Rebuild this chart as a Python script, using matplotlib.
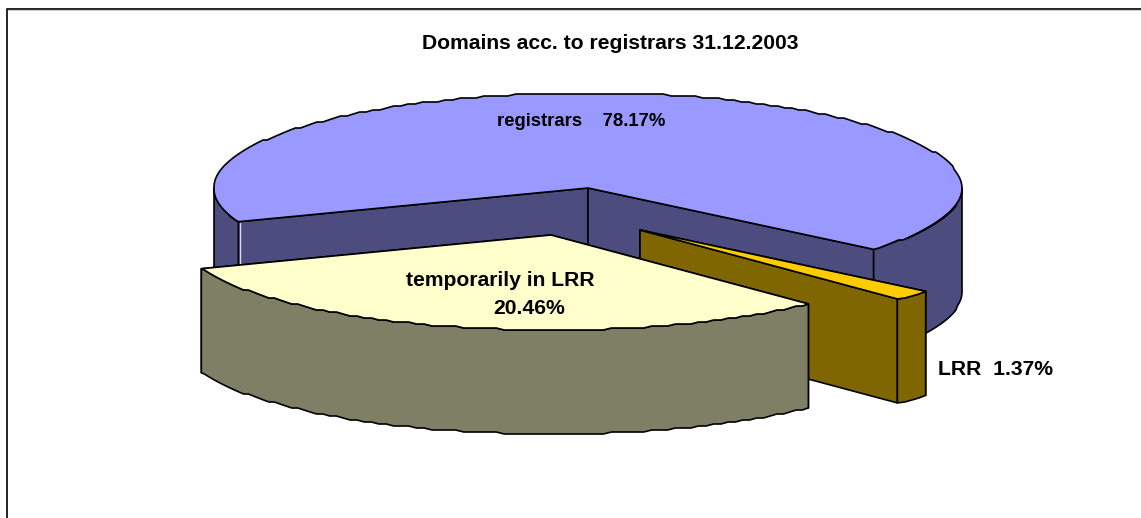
import numpy as np
import matplotlib
matplotlib.use('Agg')
import matplotlib.pyplot as plt

plt.rcParams['font.family'] = ['Liberation Sans', 'DejaVu Sans']

# data
labels = ['LRR  1.37%', 'temporarily in LRR\n20.46%', 'registrars    78.17%']
shares = [1.37, 20.46, 78.17]
title = 'Domains acc. to registrars 31.12.2003'

# colours: top of each slice, side of each slice
top_colors = ['#FFCC00', '#FFFFCC', '#9999FF']
side_colors = ['#7F6600', '#7F7F66', '#4C4C7F']

# view of the pie (pixels of the picture)
cx, cy = 588, 188
rx, ry = 374, 95
depth = 104
start_angle = 40.2
# the old 3D view stretches the front slices
front_gain = [1.28, 1.53]
explode = [(52, 42), (-37, 47), (0, 0)]
# the reference is an upscaled bitmap, its curves have little steps
step = 2.0

fig = plt.figure(figsize=(11.41, 5.18), dpi=100)
ax = fig.add_axes([0, 0, 1, 1])
ax.set_xlim(0, 1141)
ax.set_ylim(518, 0)
ax.axis('off')

# slice angles
angles = [start_angle]
for s, g in zip(shares[:2], front_gain):
    angles.append(angles[-1] + s * 3.6 * g)
angles.append(start_angle + 360)


def rim(a0, a1, ox, oy):
    n = max(int((a1 - a0) * 0.8), 3)
    t = np.radians(np.linspace(a0, a1, n))
    x = cx + ox + rx * np.cos(t)
    y = cy + oy + ry * np.sin(t)
    y[1:-1] = np.round(y[1:-1] / step) * step
    return x, y


def poly(xs, ys, color, z):
    ax.fill(xs, ys, facecolor=color, edgecolor='black', linewidth=1.2, joinstyle='round', zorder=z)


def draw_slice(i, z):
    a0, a1 = angles[i], angles[i + 1]
    ox, oy = explode[i]
    ax0, ay0 = cx + ox, cy + oy
    x, y = rim(a0, a1, ox, oy)

    # cut faces
    for j in (0, -1):
        poly([ax0, x[j], x[j], ax0], [ay0, y[j], y[j] + depth, ay0 + depth], side_colors[i], z)

    # outer wall, only the part that looks at us
    for lo, hi in ((0, 180), (360, 540)):
        b0, b1 = max(a0, lo), min(a1, hi)
        if b0 < b1:
            wx, wy = rim(b0, b1, ox, oy)
            poly(np.r_[wx, wx[::-1]], np.r_[wy, wy[::-1] + depth], side_colors[i], z + 0.1)

    # top
    poly(np.r_[ax0, x], np.r_[ay0, y], top_colors[i], z + 0.2)


draw_slice(2, 2)

# pale line next to the left cut of the big slice
ax.plot([239.7, 239.7], [223, 270], color='#d8d8e8', linewidth=1.0, zorder=2.15)

draw_slice(0, 3)
draw_slice(1, 4)

# frame
ax.plot([6.5, 6.5, 1141], [518, 8.5, 8.5], color='#111111', linewidth=1.3, zorder=1)
ax.plot([7.5, 1141], [10, 10], color='#cccccc', linewidth=0.8, zorder=1)

big = 15.2
ax.text(610.5, 43.5, title, ha='center', va='center', fontsize=big, fontweight='bold', color='black')
ax.text(581.5, 121, labels[2], ha='center', va='center', fontsize=13.3, fontweight='bold', zorder=10)
ax.text(500, 281, labels[1].split('\n')[0], ha='center', va='center', fontsize=big, fontweight='bold', zorder=10)
ax.text(529.5, 308, labels[1].split('\n')[1], ha='center', va='center', fontsize=big, fontweight='bold', zorder=10)
ax.text(995.5, 369.5, labels[0], ha='center', va='center', fontsize=big, fontweight='bold', zorder=10)

plt.savefig('out.png', dpi=100, facecolor='white')
